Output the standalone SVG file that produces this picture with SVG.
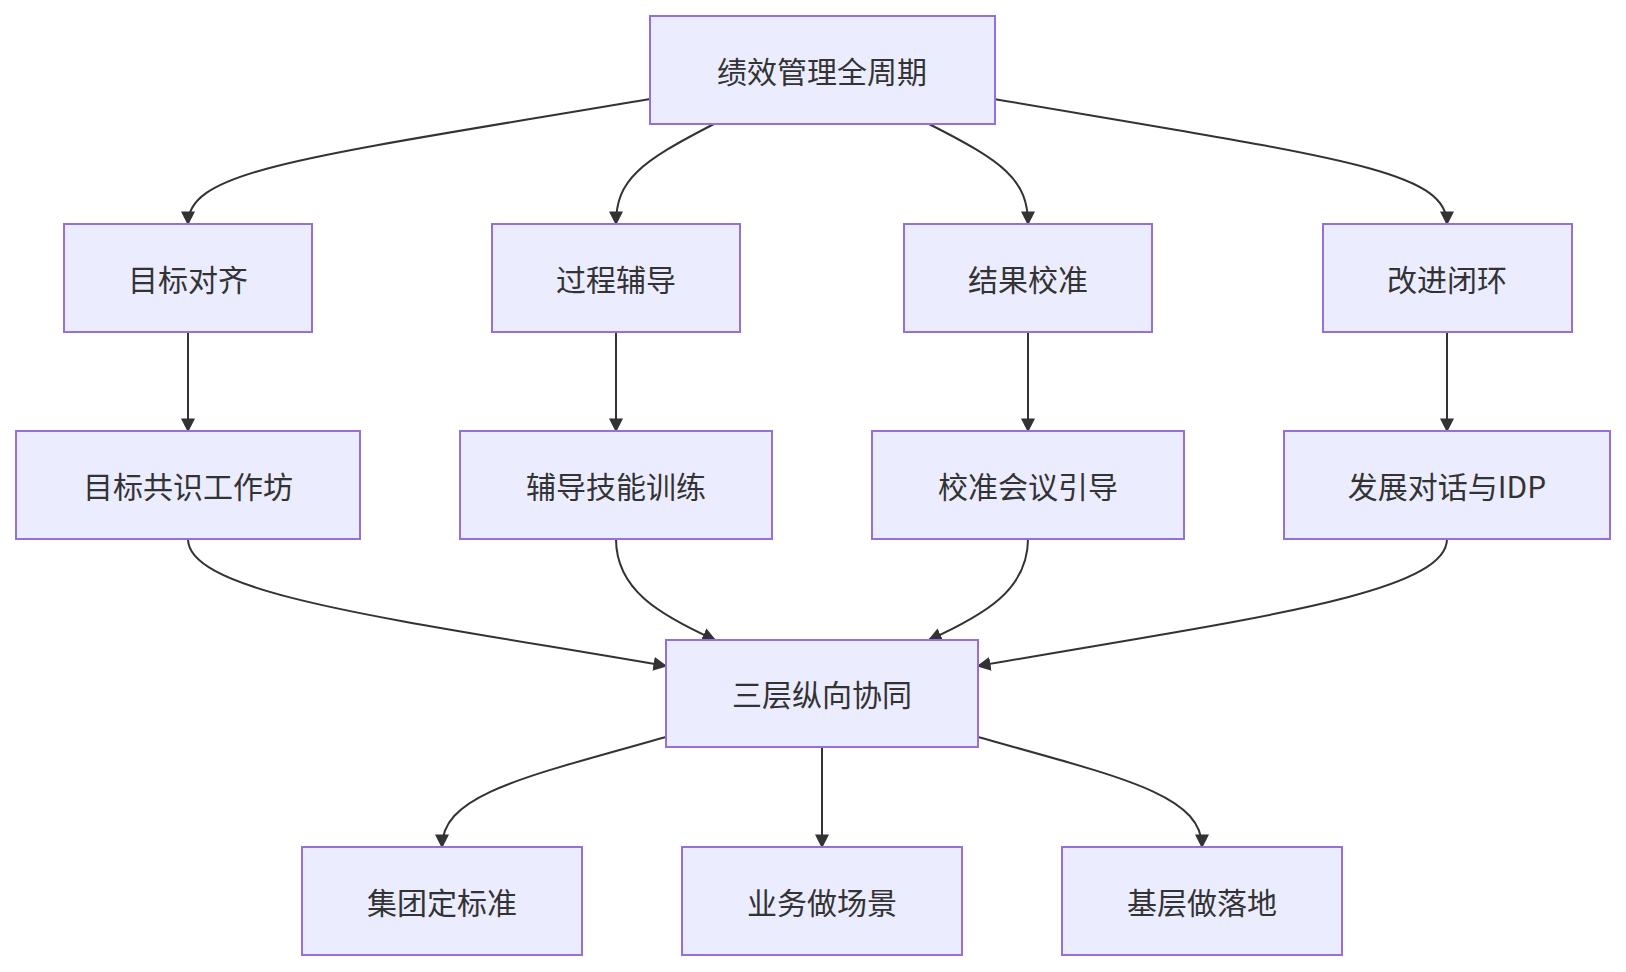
<svg xmlns="http://www.w3.org/2000/svg" width="1626" height="972" viewBox="0 0 1626 972">
<style>
.n rect{fill:#ECECFF;stroke:#9370DB;stroke-width:2}
.n text{font-family:"Noto Sans CJK SC","Noto Sans",sans-serif;font-size:30px;fill:#333;text-anchor:middle;dominant-baseline:central}
.e path{fill:none;stroke:#333;stroke-width:2;marker-end:url(#a)}
</style>
<defs><marker id="a" viewBox="0 0 10 10" refX="9" refY="5" markerWidth="7" markerHeight="7" markerUnits="strokeWidth" orient="auto"><path d="M0,0L10,5L0,10z" fill="#333"/></marker></defs>
<rect width="1626" height="972" fill="#fff"/>
<g class="e">
<path d="M650,99 C300,158 188,170 188,224"/>
<path d="M714,124 C640,162 616,180 616,224"/>
<path d="M929,124 C1004,162 1028,180 1028,224"/>
<path d="M994,99 C1340,158 1447,170 1447,224"/>
<path d="M188,332 L188,431"/>
<path d="M616,332 L616,431"/>
<path d="M1028,332 L1028,431"/>
<path d="M1447,332 L1447,431"/>
<path d="M188,539 C188,595 400,620 666,666"/>
<path d="M616,539 C616,590 660,615 715,640"/>
<path d="M1028,539 C1028,590 984,615 929,640"/>
<path d="M1447,539 C1447,595 1240,620 978,666"/>
<path d="M666,737 C520,778 442,795 442,847"/>
<path d="M822,747 L822,847"/>
<path d="M978,737 C1124,778 1202,795 1202,847"/>
</g>
<g id="top" class="n"><rect x="650" y="16" width="345" height="108"/><text x="822" y="70">绩效管理全周期</text></g>
<g id="a1" class="n"><rect x="64" y="224" width="248" height="108"/><text x="188" y="278">目标对齐</text></g>
<g id="a2" class="n"><rect x="492" y="224" width="248" height="108"/><text x="616" y="278">过程辅导</text></g>
<g id="a3" class="n"><rect x="904" y="224" width="248" height="108"/><text x="1028" y="278">结果校准</text></g>
<g id="a4" class="n"><rect x="1323" y="224" width="249" height="108"/><text x="1447" y="278">改进闭环</text></g>
<g id="b1" class="n"><rect x="16" y="431" width="344" height="108"/><text x="188" y="485">目标共识工作坊</text></g>
<g id="b2" class="n"><rect x="460" y="431" width="312" height="108"/><text x="616" y="485">辅导技能训练</text></g>
<g id="b3" class="n"><rect x="872" y="431" width="312" height="108"/><text x="1028" y="485">校准会议引导</text></g>
<g id="b4" class="n"><rect x="1284" y="431" width="326" height="108"/><text x="1447" y="485">发展对话与IDP</text></g>
<g id="mid" class="n"><rect x="666" y="640" width="312" height="107"/><text x="822" y="693">三层纵向协同</text></g>
<g id="c1" class="n"><rect x="302" y="847" width="280" height="108"/><text x="442" y="901">集团定标准</text></g>
<g id="c2" class="n"><rect x="682" y="847" width="280" height="108"/><text x="822" y="901">业务做场景</text></g>
<g id="c3" class="n"><rect x="1062" y="847" width="280" height="108"/><text x="1202" y="901">基层做落地</text></g>
</svg>
